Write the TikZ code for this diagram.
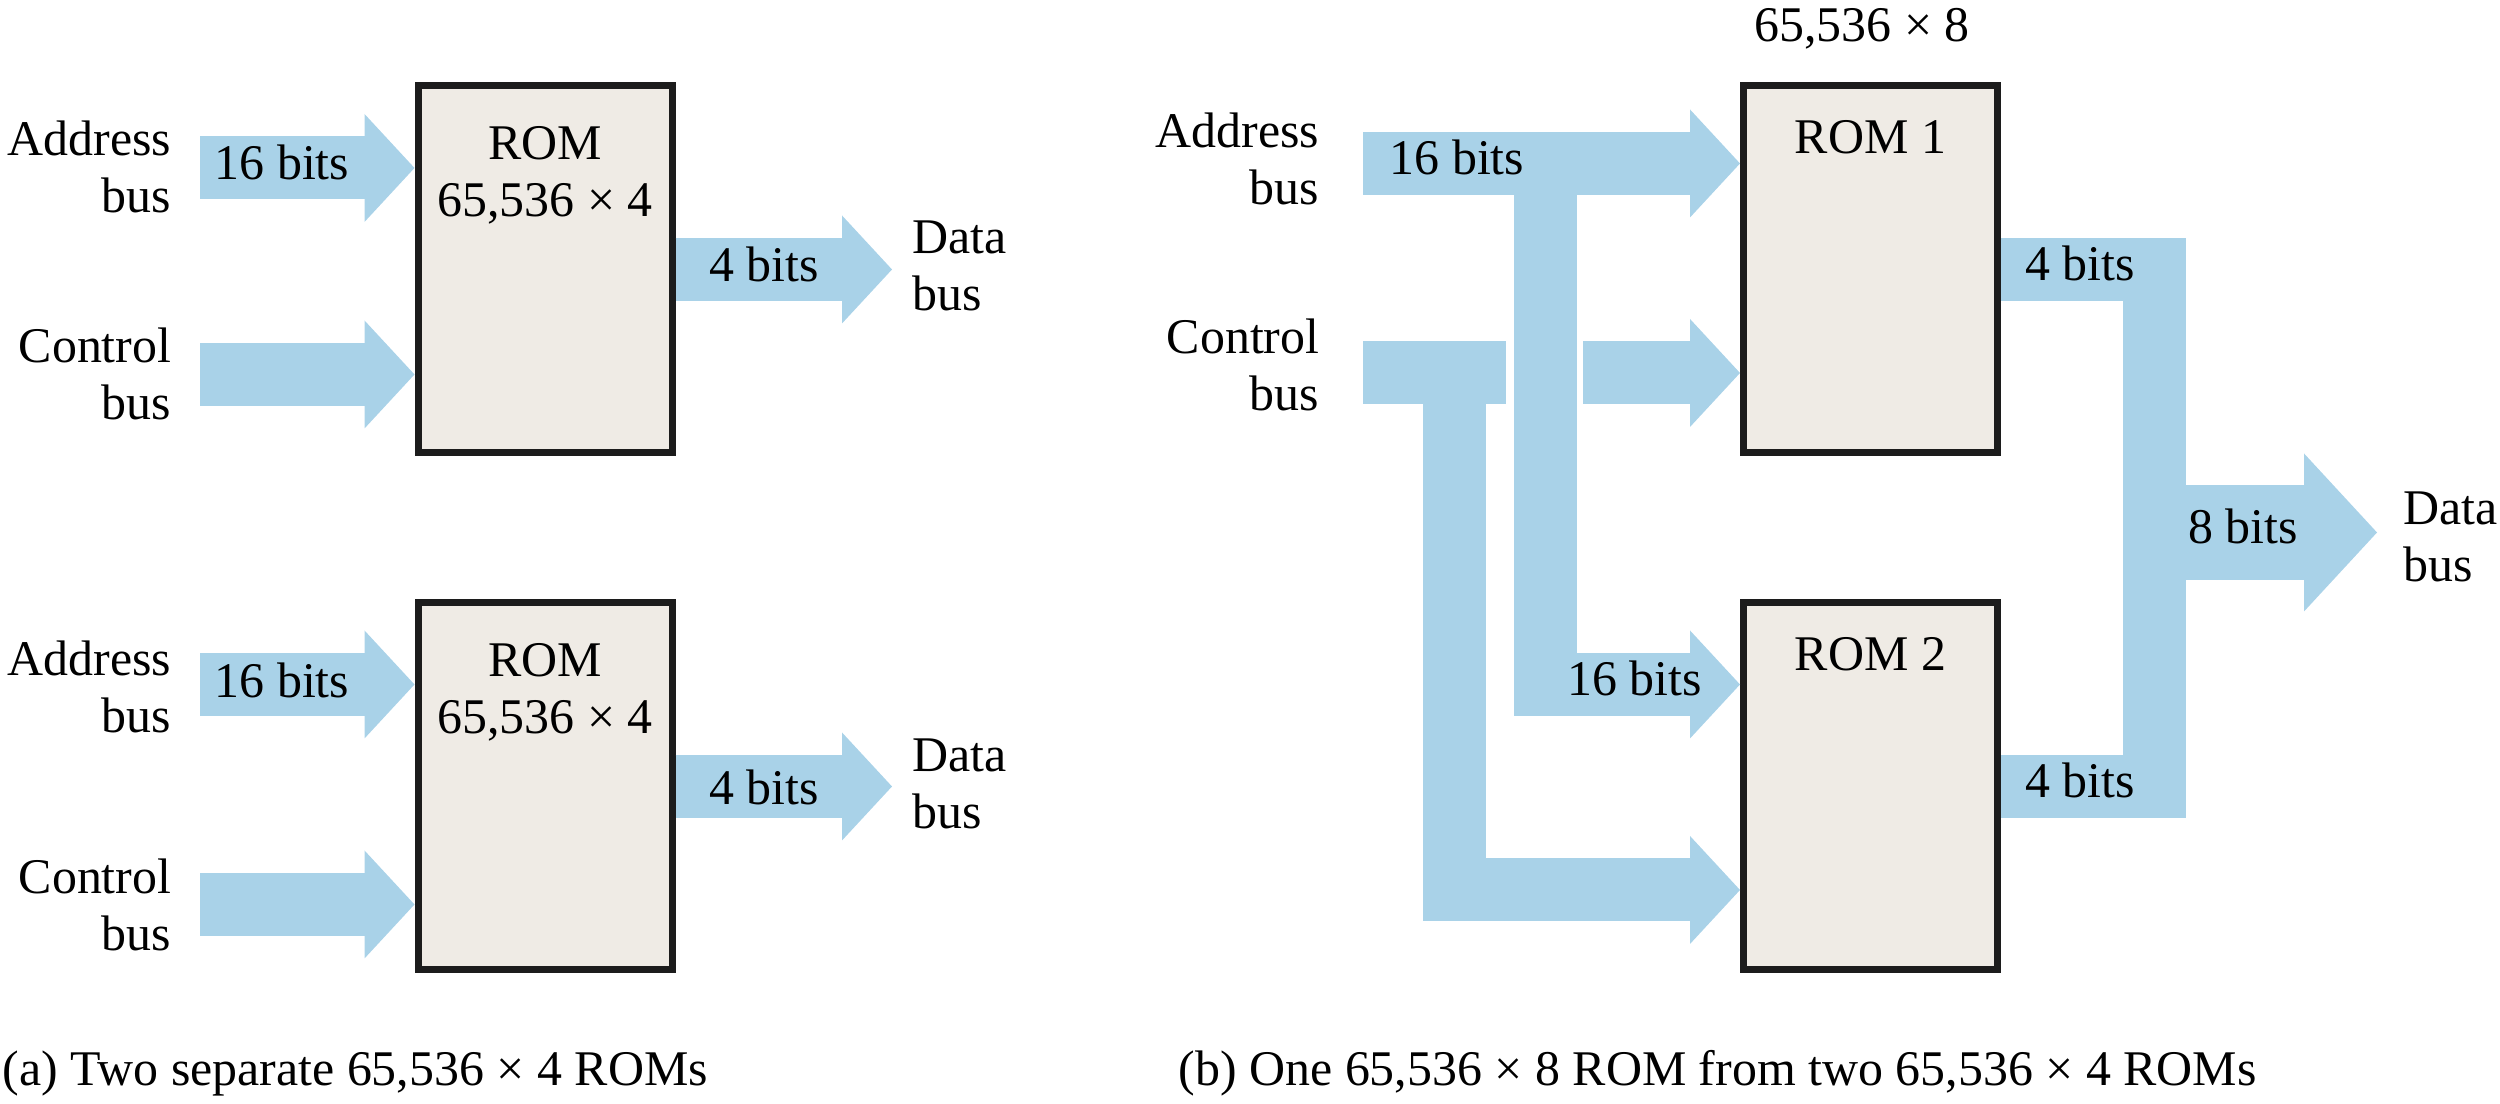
\documentclass[tikz,border=0pt]{standalone}
\usepackage{fontspec}
\setmainfont{Liberation Serif}
\usepackage{tikz}
\usetikzlibrary{arrows.meta,calc,positioning}

\definecolor{busblue}{HTML}{A9D2E8}
\definecolor{romfill}{HTML}{EFEBE5}
\definecolor{romline}{HTML}{1C1C1C}

\tikzset{
    rom/.style={draw=romline, line width=0.07cm, fill=romfill, minimum width=2.54cm, minimum height=3.67cm, inner sep=0pt},
    txt/.style={inner sep=0pt, font=\fontsize{14.2}{16.2}\selectfont},
    busline/.style={draw=busblue, line width=0.63cm},
    bus/.style={busline, -{Triangle[length=0.5cm, width=1.08cm, line width=0pt]}},
    bigbus/.style={draw=busblue, line width=0.95cm, -{Triangle[length=0.73cm, width=1.58cm, line width=0pt]}}
}

\begin{document}
\begin{tikzpicture}
    \useasboundingbox (0,0) rectangle (25,11.04);

    % (a) Two separate ROMs
    \node[rom] (romA) at (5.45,8.345) {};
    \node[rom] (romB) at (5.45,3.175) {};
    \node[txt, anchor=north, align=center] (romAtxt) at ([yshift=-0.43cm]romA.north) {ROM\\65,536 × 4};
    \node[txt, anchor=north, align=center] (romBtxt) at ([yshift=-0.43cm]romB.north) {ROM\\65,536 × 4};

    \node[txt, anchor=east, align=right] (addrA) at (1.72,9.37) {Address\\bus};
    \node[txt, anchor=east, align=right] (ctrlA) at (1.72,7.305) {Control\\bus};
    \node[txt, anchor=west, align=left] (dataA) at (9.12,8.38) {Data\\bus};
    \node[txt, anchor=east, align=right] (addrB) at (1.72,4.175) {Address\\bus};
    \node[txt, anchor=east, align=right] (ctrlB) at (1.72,1.995) {Control\\bus};
    \node[txt, anchor=west, align=left] (dataB) at (9.12,3.20) {Data\\bus};

    \coordinate (addrAin) at (2.00,9.36);
    \coordinate (ctrlAin) at (2.00,7.295);
    \coordinate (dataAout) at (8.92,8.345);
    \draw[bus] (addrAin) -- (addrAin -| romA.west);
    \draw[bus] (ctrlAin) -- (ctrlAin -| romA.west);
    \draw[bus] (romA.east) -- (dataAout);

    \coordinate (addrBin) at (2.00,4.195);
    \coordinate (ctrlBin) at (2.00,1.995);
    \coordinate (dataBout) at (8.92,3.175);
    \draw[bus] (addrBin) -- (addrBin -| romB.west);
    \draw[bus] (ctrlBin) -- (ctrlBin -| romB.west);
    \draw[bus] (romB.east) -- (dataBout);

    \node[txt, anchor=base] (bitsA1) at (2.82,9.24) {16 bits};
    \node[txt, anchor=base] (bitsA2) at (7.64,8.22) {4 bits};
    \node[txt, anchor=base] (bitsB1) at (2.82,4.06) {16 bits};
    \node[txt, anchor=base] (bitsB2) at (7.64,2.99) {4 bits};

    % (b) One wide ROM from two
    \node[txt, anchor=base] (size) at (18.62,10.62) {65,536 × 8};
    \node[rom] (romC) at (18.705,8.345) {};
    \node[rom] (romD) at (18.705,3.175) {};
    \node[txt, anchor=north] (romCtxt) at ([yshift=-0.37cm]romC.north) {ROM 1};
    \node[txt, anchor=north] (romDtxt) at ([yshift=-0.37cm]romD.north) {ROM 2};

    \node[txt, anchor=east, align=right] (addrC) at (13.20,9.45) {Address\\bus};
    \node[txt, anchor=east, align=right] (ctrlC) at (13.20,7.39) {Control\\bus};
    \node[txt, anchor=west, align=left] (dataC) at (24.03,5.675) {Data\\bus};

    % address bus, split to both ROMs
    \coordinate (addrCin) at (13.63,9.405);
    \coordinate (addrTap) at (15.45,9.405);
    \draw[bus] (addrCin) -- (addrCin -| romC.west);
    \draw[bus, line join=miter] (addrTap) |- ($(romD.west)+(0,1.02)$);

    % control bus, passes under the address branch
    \coordinate (ctrlCin) at (13.63,7.31);
    \coordinate (ctrlGap) at (15.06,7.31);
    \coordinate (ctrlCont) at (15.83,7.31);
    \coordinate (ctrlTap) at (14.545,7.31);
    \draw[busline] (ctrlCin) -- (ctrlGap);
    \draw[bus] (ctrlCont) -- (ctrlCont -| romC.west);
    \draw[bus, line join=miter] (ctrlTap) |- ($(romD.west)+(0,-1.035)$);

    % data outputs merge into 8 bits
    \coordinate (dataJoin) at (21.545,5.715);
    \coordinate (dataCout) at (23.77,5.715);
    \draw[busline, line join=miter] (romC.east) -| (dataJoin) |- (romD.east);
    \draw[bigbus] (dataJoin) -- (dataCout);

    \node[txt, anchor=base] (bitsC1) at (14.57,9.29) {16 bits};
    \node[txt, anchor=base] (bitsD1) at (16.345,4.08) {16 bits};
    \node[txt, anchor=base] (bitsC2) at (20.80,8.23) {4 bits};
    \node[txt, anchor=base] (bitsD2) at (20.80,3.06) {4 bits};
    \node[txt, anchor=base] (bitsE) at (22.43,5.60) {8 bits};

    % captions
    \node[txt, anchor=base west] (capA) at (0.02,0.18) {(a) Two separate 65,536 × 4 ROMs};
    \node[txt, anchor=base west] (capB) at (11.78,0.18) {(b) One 65,536 × 8 ROM from two 65,536 × 4 ROMs};
\end{tikzpicture}
\end{document}
